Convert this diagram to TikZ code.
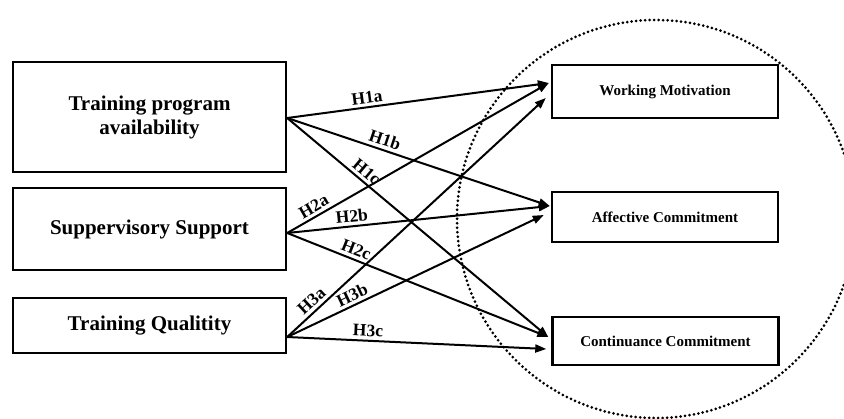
\documentclass[tikz,border=0pt]{standalone}
\usepackage{fontspec}
\setmainfont{Liberation Serif}
\usetikzlibrary{arrows.meta,positioning}
\begin{document}
\begin{tikzpicture}[x=1pt,y=-1pt,
  leftbox/.style={draw,line width=2.4pt,minimum width=273pt,inner sep=0pt,align=center,font=\fontsize{21}{24}\selectfont\bfseries},
  rightbox/.style={draw,line width=2.4pt,minimum width=226pt,inner sep=0pt,align=center,font=\fontsize{15}{18}\selectfont\bfseries},
  link/.style={line width=2pt,-{Triangle[length=11pt,width=8pt]}},
  hlab/.style={sloped,above,inner sep=3pt,font=\fontsize{17.5}{20}\selectfont\bfseries}]
\useasboundingbox (0,0) rectangle (844,418);
\fill[white] (0,0) rectangle (844,418);
% dotted circle
\draw[line width=3pt,line cap=round,dash pattern=on 0pt off 4.5pt] (656,219) circle[radius=199];
% boxes
\node[leftbox,minimum height=110pt] (b1) at (149.5,117) {Training program\\availability};
\node[leftbox,minimum height=82pt] (b2) at (149.5,229) {Suppervisory Support};
\node[leftbox,minimum height=55pt] (b3) at (149.5,325.5) {Training Qualitity};
\node[rightbox,minimum height=53pt] (wm) at (665,91.5) {Working Motivation};
\node[rightbox,minimum height=50pt] (ac) at (665,217) {Affective Commitment};
\node[rightbox,minimum height=48pt] (cc) at (665.5,341) {Continuance Commitment};
% source points
\coordinate (s1) at ([yshift=-1pt]b1.east);
\coordinate (s2) at ([yshift=-4pt]b2.east);
\coordinate (s3) at ([yshift=-11.5pt]b3.east);
% target points
\coordinate (t1a) at ([xshift=-2pt,yshift=8.5pt]wm.west);
\coordinate (t3a) at ([xshift=-5pt,yshift=-6.5pt]wm.west);
\coordinate (t1b) at ([xshift=-1pt,yshift=11pt]ac.west);
\coordinate (t3b) at ([xshift=-7pt,yshift=2pt]ac.west);
\coordinate (t1c) at ([xshift=-3pt,yshift=4pt]cc.west);
\coordinate (t3c) at ([xshift=-5pt,yshift=-8pt]cc.west);
% connectors
\draw[link] (s1) -- node[hlab,pos=0.31] {H1a} (t1a);
\draw[link] (s1) -- node[hlab,pos=0.36] {H1b} (t1b);
\draw[link] (s1) -- node[hlab,pos=0.28] {H1c} (t1c);
\draw[link] (s2) -- node[hlab,pos=0.12] {H2a} (t1a);
\draw[link] (s2) -- node[hlab,pos=0.25] {H2b} (t1b);
\draw[link] (s2) -- node[hlab,pos=0.25] {H2c} (t1c);
\draw[link] (s3) -- node[hlab,pos=0.12] {H3a} (t3a);
\draw[link] (s3) -- node[hlab,pos=0.27] {H3b} (t3b);
\draw[link] (s3) -- node[hlab,pos=0.31] {H3c} (t3c);
\end{tikzpicture}
\end{document}
